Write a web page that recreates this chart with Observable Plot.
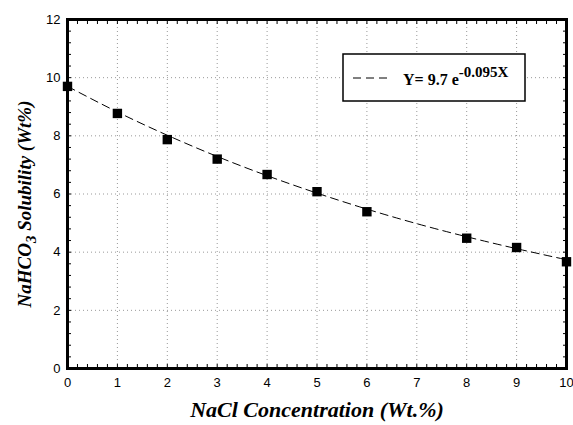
<!DOCTYPE html>
<html><head><meta charset="utf-8">
<script src="https://cdn.jsdelivr.net/npm/d3@7"></script>
<script src="https://cdn.jsdelivr.net/npm/@observablehq/plot@0.6"></script>
<style>body{margin:0;background:#fff}</style>
</head><body><div id="chart"></div>
<script>
// measured points
const nacl = [0, 1, 2, 3, 4, 5, 6, 8, 9, 10];
const solubility = [9.70, 8.77, 7.87, 7.20, 6.67, 6.08, 5.39, 4.48, 4.16, 3.67];
// fitted curve
const fitX = [0, 1, 2, 3, 4, 5, 6, 7, 8, 9, 10];
const fitY = [9.70, 8.82, 8.02, 7.29, 6.63, 6.03, 5.48, 4.98, 4.53, 4.12, 3.74];
const xTicks = [0, 1, 2, 3, 4, 5, 6, 7, 8, 9, 10];
const yTicks = [0, 2, 4, 6, 8, 10, 12];
const xMinor = d3.range(0, 10.001, 0.2).map(v => +v.toFixed(1));
const yMinor = d3.range(0, 12.001, 0.4).map(v => +v.toFixed(1));

const pts = nacl.map((x, i) => ({x, y: solubility[i]}));
const fit = fitX.map((x, i) => ({x, y: fitY[i]}));

const plot = Plot.plot({
  width: 573, height: 425,
  marginLeft: 67, marginRight: 7, marginTop: 19, marginBottom: 57,
  style: {fontFamily: "Liberation Sans, Arial, sans-serif", fontSize: "13px", color: "#000", background: "#fff"},
  x: {domain: [0, 10]},
  y: {domain: [0, 12]},
  marks: [
    Plot.gridX(xTicks.slice(1, -1), {stroke: "#999", strokeOpacity: 1, strokeDasharray: "1,3"}),
    Plot.gridY(yTicks.slice(1, -1), {stroke: "#999", strokeOpacity: 1, strokeDasharray: "1,3"}),
    Plot.axisX(xTicks, {tickSize: 0, tickPadding: 9, fontSize: 13, label: null}),
    Plot.axisY(yTicks, {tickSize: 0, tickPadding: 7, fontSize: 13, label: null}),
    Plot.axisX(xMinor, {anchor: "bottom", tickSize: -4, text: null, label: null, strokeWidth: 1}),
    Plot.axisX(xMinor, {anchor: "top", tickSize: -4, text: null, label: null, strokeWidth: 1}),
    Plot.axisY(yMinor, {anchor: "left", tickSize: -4, text: null, label: null, strokeWidth: 1}),
    Plot.axisY(yMinor, {anchor: "right", tickSize: -4, text: null, label: null, strokeWidth: 1}),
    Plot.line(fit, {x: "x", y: "y", curve: "natural", stroke: "#000", strokeWidth: 1, strokeDasharray: "8,5"}),
    Plot.dot(pts, {x: "x", y: "y", symbol: "square", r: 5.3, fill: "#000", stroke: "none"}),
    Plot.frame({stroke: "#000", strokeWidth: 3})
  ]
});

const serif = "'Liberation Serif', 'Times New Roman', serif";
const svg = d3.select(plot);
// legend box
svg.append("rect").attr("x", 343).attr("y", 54).attr("width", 182).attr("height", 47)
  .attr("fill", "#fff").attr("stroke", "#000").attr("stroke-width", 1.5);
svg.append("line").attr("x1", 353).attr("x2", 390).attr("y1", 78).attr("y2", 78)
  .attr("stroke", "#000").attr("stroke-width", 1).attr("stroke-dasharray", "8,5");
const lt = svg.append("text").attr("x", 403).attr("y", 85)
  .style("text-anchor", "start").style("font-family", serif).style("font-weight", "bold").style("font-size", "16px");
lt.append("tspan").text("Y= 9.7 e");
lt.append("tspan").attr("dy", -8).style("font-size", "15px").text("-0.095X");

// axis titles
svg.append("text").attr("x", 317).attr("y", 417)
  .style("text-anchor", "middle").style("font-family", serif).style("font-weight", "bold")
  .style("font-style", "italic").style("font-size", "22px").text("NaCl Concentration (Wt.%)");
const yl = svg.append("text").attr("transform", "translate(31,204) rotate(-90)")
  .style("text-anchor", "middle").style("font-family", serif).style("font-weight", "bold")
  .style("font-style", "italic").style("font-size", "19px");
yl.append("tspan").text("NaHCO");
yl.append("tspan").attr("dy", 5).style("font-size", "15px").text("3");
yl.append("tspan").attr("dy", -5).text(" Solubility (Wt%)");

document.getElementById("chart").appendChild(plot);
</script></body></html>
